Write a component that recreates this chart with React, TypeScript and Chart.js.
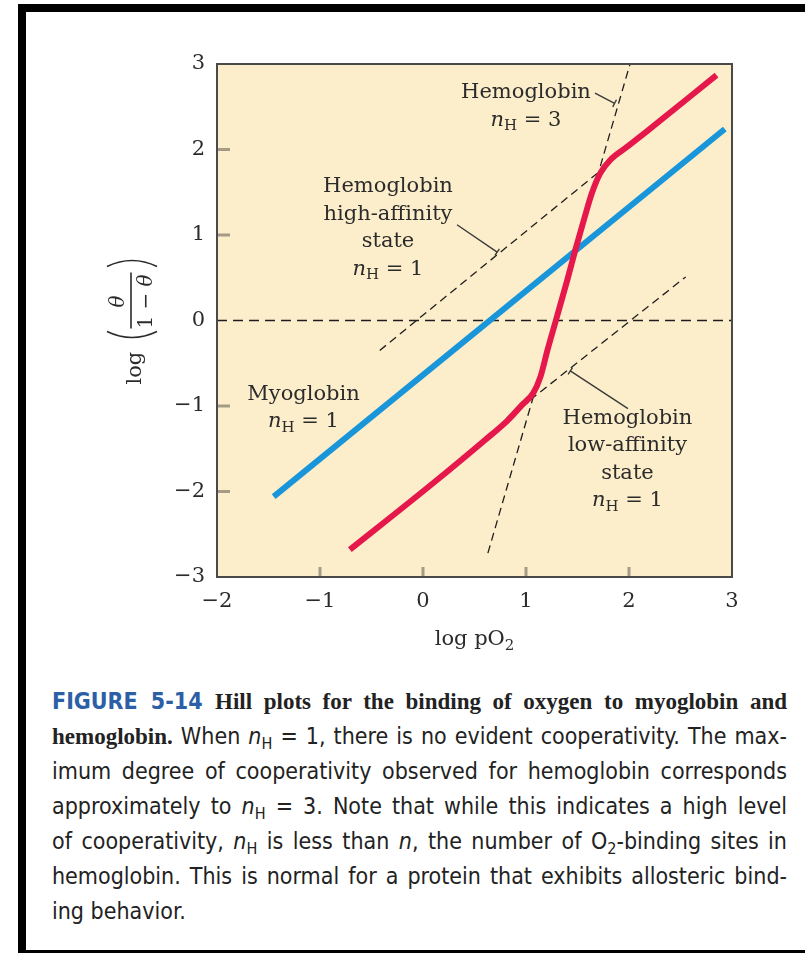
import React, { useEffect, useRef } from "react";
import { Chart, registerables } from "chart.js";

Chart.register(...registerables);

// Axis ticks and their printed labels
const xTicks = [-2, -1, 0, 1, 2, 3];
const xTickLabels = ["−2", "−1", "0", "1", "2", "3"];
const yTicks = [-3, -2, -1, 0, 1, 2, 3];
const yTickLabels = ["−3", "−2", "−1", "0", "1", "2", "3"];

// Myoglobin Hill plot (n_H = 1)
const myoglobinX = [-1.45, 2.93];
const myoglobinY = [-2.06, 2.24];

// Hemoglobin Hill plot: low-affinity limb, cooperative transition, high-affinity limb
const hemoglobinX = [-0.71, 0.07, 0.6, 0.82, 0.96, 1.07, 1.14, 1.21, 1.29, 1.4, 1.48, 1.57, 1.64, 1.72, 1.82, 1.98, 2.17, 2.85];
const hemoglobinY = [-2.68, -1.93, -1.4, -1.17, -0.99, -0.85, -0.66, -0.34, 0, 0.47, 0.83, 1.21, 1.49, 1.72, 1.88, 2.03, 2.21, 2.87];

// Reference (dashed) lines
const zeroLineX = [-2, 3];
const zeroLineY = [0, 0];
const highAffinityX = [-0.42, 1.69];
const highAffinityY = [-0.35, 1.72];
const lowAffinityX = [1.04, 2.55];
const lowAffinityY = [-0.93, 0.51];
const hillThreeX = [0.63, 2.01];
const hillThreeY = [-2.72, 3.0];

// Leader lines from labels to the dashed lines
const leaderHillThreeX = [1.67, 1.86];
const leaderHillThreeY = [2.66, 2.54];
const leaderHighX = [0.33, 0.72];
const leaderHighY = [1.12, 0.8];
const leaderLowX = [1.99, 1.43];
const leaderLowY = [-1.03, -0.59];

// Label blocks: anchor (data coords, centre of first line) and lines
const labelHillThree = { x: 1.0, y: 2.67, lines: ["Hemoglobin", "n_H = 3"] };
const labelHigh = { x: -0.34, y: 1.565, lines: ["Hemoglobin", "high-affinity", "state", "n_H = 1"] };
const labelMyo = { x: -1.16, y: -0.87, lines: ["Myoglobin", "n_H = 1"] };
const labelLow = { x: 1.985, y: -1.144, lines: ["Hemoglobin", "low-affinity", "state", "n_H = 1"] };

const SERIF = '"DejaVu Serif", serif';
const INK = "#2b2b2b";
const PLOT_BG = "#FDEECB";
const RED = "#E5174B";
const BLUE = "#1996DA";
const LABEL_SIZE = 21;

const pts = (xs: number[], ys: number[]) => xs.map((x, i) => ({ x, y: ys[i] }));

type Seg = { t: string; font: string; dy: number };

function lineSegs(line: string, size: number): Seg[] {
  if (line.startsWith("n_H")) {
    return [
      { t: "n", font: `italic ${size}px ${SERIF}`, dy: 0 },
      { t: "H", font: `${Math.round(size * 0.72)}px ${SERIF}`, dy: size * 0.28 },
      { t: line.slice(3), font: `${size}px ${SERIF}`, dy: 0 },
    ];
  }
  return [{ t: line, font: `${size}px ${SERIF}`, dy: 0 }];
}

function drawSegs(ctx: CanvasRenderingContext2D, segs: Seg[], cx: number, cy: number) {
  let total = 0;
  const widths = segs.map((s) => {
    ctx.font = s.font;
    const w = ctx.measureText(s.t).width;
    total += w;
    return w;
  });
  let x = cx - total / 2;
  segs.forEach((s, i) => {
    ctx.font = s.font;
    ctx.fillText(s.t, x, cy + s.dy);
    x += widths[i];
  });
}

const decorPlugin = {
  id: "hillDecor",
  beforeDraw(chart: any) {
    const { ctx, chartArea: a } = chart;
    ctx.save();
    ctx.fillStyle = PLOT_BG;
    ctx.fillRect(a.left, a.top, a.right - a.left, a.bottom - a.top);
    ctx.restore();
  },
  afterDraw(chart: any) {
    const { ctx, chartArea: a } = chart;
    const sx = chart.scales.x;
    const sy = chart.scales.y;
    const px = (v: number) => sx.getPixelForValue(v);
    const py = (v: number) => sy.getPixelForValue(v);
    ctx.save();

    // inward tick marks
    ctx.strokeStyle = "#A49C86";
    ctx.lineWidth = 3;
    yTicks.forEach((v) => {
      if (v === yTicks[0] || v === yTicks[yTicks.length - 1] || v === 0) return;
      ctx.beginPath();
      ctx.moveTo(a.left, py(v));
      ctx.lineTo(a.left + 13, py(v));
      ctx.stroke();
    });
    xTicks.forEach((v) => {
      if (v === xTicks[0] || v === xTicks[xTicks.length - 1]) return;
      ctx.beginPath();
      ctx.moveTo(px(v), a.bottom);
      ctx.lineTo(px(v), a.bottom - 10);
      ctx.stroke();
    });

    // frame
    ctx.strokeStyle = "#4a4a4a";
    ctx.lineWidth = 2;
    ctx.strokeRect(a.left, a.top, a.right - a.left, a.bottom - a.top);

    // leader lines with a small cross tick at the end
    ctx.strokeStyle = "#3a3a3a";
    ctx.lineWidth = 1.4;
    const leader = (xs: number[], ys: number[]) => {
      const x0 = px(xs[0]), y0 = py(ys[0]), x1 = px(xs[1]), y1 = py(ys[1]);
      ctx.beginPath();
      ctx.moveTo(x0, y0);
      ctx.lineTo(x1, y1);
      const len = Math.hypot(x1 - x0, y1 - y0);
      const nx = -(y1 - y0) / len, ny = (x1 - x0) / len;
      ctx.moveTo(x1 - nx * 4, y1 - ny * 4);
      ctx.lineTo(x1 + nx * 4, y1 + ny * 4);
      ctx.stroke();
    };
    leader(leaderHillThreeX, leaderHillThreeY);
    leader(leaderHighX, leaderHighY);
    leader(leaderLowX, leaderLowY);

    // label blocks
    ctx.fillStyle = INK;
    ctx.textBaseline = "middle";
    ctx.textAlign = "left";
    const block = (b: { x: number; y: number; lines: string[] }, gap: number) => {
      b.lines.forEach((line, i) => drawSegs(ctx, lineSegs(line, LABEL_SIZE), px(b.x), py(b.y) + i * gap));
    };
    block(labelHillThree, 28);
    block(labelHigh, 27.5);
    block(labelMyo, 27);
    block(labelLow, 27.5);

    // x-axis title: log pO2
    const cxT = (a.left + a.right) / 2;
    drawSegs(
      ctx,
      [
        { t: "log pO", font: `21px ${SERIF}`, dy: 0 },
        { t: "2", font: `15px ${SERIF}`, dy: 6 },
      ],
      cxT,
      640
    );

    // y-axis title: log(θ / (1 − θ)), rotated
    const cyT = (a.top + a.bottom) / 2;
    ctx.translate(131, cyT);
    ctx.rotate(-Math.PI / 2);
    ctx.textBaseline = "alphabetic";
    ctx.font = `21px ${SERIF}`;
    ctx.fillText("log", -64, 10);
    ctx.strokeStyle = INK;
    ctx.lineWidth = 1.6;
    ctx.beginPath();
    ctx.moveTo(-11, -24);
    ctx.quadraticCurveTo(-23, 1, -11, 26);
    ctx.moveTo(54, -24);
    ctx.quadraticCurveTo(66, 1, 54, 26);
    ctx.stroke();
    ctx.lineWidth = 1.6;
    ctx.beginPath();
    ctx.moveTo(-8, 0);
    ctx.lineTo(48, 0);
    ctx.stroke();
    drawSegs(ctx, [{ t: "θ", font: `italic 20px ${SERIF}`, dy: 0 }], 19, -7);
    drawSegs(
      ctx,
      [
        { t: "1 − ", font: `20px ${SERIF}`, dy: 0 },
        { t: "θ", font: `italic 20px ${SERIF}`, dy: 0 },
      ],
      19,
      21
    );
    ctx.restore();
  },
};

function HillChart() {
  const ref = useRef<HTMLCanvasElement | null>(null);
  useEffect(() => {
    if (!ref.current) return;
    const dashed = (xs: number[], ys: number[], dash: number[], width: number) => ({
      data: pts(xs, ys),
      borderColor: "#1e1e1e",
      borderWidth: width,
      borderDash: dash,
      pointRadius: 0,
      showLine: true,
      fill: false,
    });
    const chart = new Chart(ref.current, {
      type: "scatter",
      data: {
        datasets: [
          {
            label: "Hemoglobin",
            data: pts(hemoglobinX, hemoglobinY),
            borderColor: RED,
            borderWidth: 6,
            pointRadius: 0,
            showLine: true,
            cubicInterpolationMode: "monotone",
            borderCapStyle: "butt",
          },
          {
            label: "Myoglobin",
            data: pts(myoglobinX, myoglobinY),
            borderColor: BLUE,
            borderWidth: 6,
            pointRadius: 0,
            showLine: true,
          },
          { label: "zero", ...dashed(zeroLineX, zeroLineY, [10, 6], 1.6) },
          { label: "high affinity", ...dashed(highAffinityX, highAffinityY, [8, 5], 1.3) },
          { label: "low affinity", ...dashed(lowAffinityX, lowAffinityY, [8, 5], 1.3) },
          { label: "n_H = 3", ...dashed(hillThreeX, hillThreeY, [8, 5], 1.3) },
        ] as any,
      },
      options: {
        animation: false,
        responsive: false,
        events: [],
        layout: { padding: { left: 157, right: 73, top: 64, bottom: 23 } },
        plugins: { legend: { display: false }, tooltip: { enabled: false } },
        scales: {
          x: {
            type: "linear",
            min: -2,
            max: 3,
            afterBuildTicks: (s: any) => {
              s.ticks = xTicks.map((v) => ({ value: v }));
            },
            afterFit: (s: any) => {
              s.height = 60;
            },
            grid: { display: false, drawTicks: false },
            border: { display: false },
            ticks: {
              padding: 12,
              color: INK,
              font: { family: SERIF, size: 21 },
              maxRotation: 0,
              callback: (v: any) => xTickLabels[xTicks.indexOf(Number(v))],
            },
          },
          y: {
            type: "linear",
            min: -3,
            max: 3,
            afterBuildTicks: (s: any) => {
              s.ticks = yTicks.map((v) => ({ value: v }));
            },
            afterFit: (s: any) => {
              s.width = 60;
            },
            grid: { display: false, drawTicks: false },
            border: { display: false },
            ticks: {
              padding: 12,
              color: INK,
              font: { family: SERIF, size: 21 },
              callback: (v: any) => yTickLabels[yTicks.indexOf(Number(v))],
            },
          },
        },
      },
      plugins: [decorPlugin],
    });
    return () => chart.destroy();
  }, []);
  return (
    <canvas
      ref={ref}
      width={805}
      height={660}
      style={{ position: "absolute", left: 0, top: 0, width: 805, height: 660 }}
    />
  );
}

const sub: React.CSSProperties = { fontSize: "0.7em", position: "relative", top: "0.3em" };
const boldSerif: React.CSSProperties = {
  fontFamily: '"Liberation Serif", serif',
  fontWeight: 700,
  fontSize: 23,
};

function Caption() {
  const line = (last = false): React.CSSProperties => ({
    textAlign: last ? "left" : "justify",
    textAlignLast: last ? "left" : "justify",
    height: 35,
  });
  const nH = (
    <>
      <i>n</i>
      <span style={sub}>H</span>
    </>
  );
  return (
    <div
      style={{
        position: "absolute",
        left: 52,
        top: 684,
        width: 735,
        fontFamily: '"Liberation Sans Narrow", "DejaVu Sans Condensed", sans-serif',
        fontStretch: "condensed",
        fontSize: 23,
        lineHeight: "35px",
        color: "#222",
      }}
    >
      <div style={line()}>
        <span style={{ color: "#2C5FA6", fontWeight: 700 }}>FIGURE 5-14</span>{" "}
        <span style={boldSerif}>Hill plots for the binding of oxygen to myoglobin and</span>
      </div>
      <div style={line()}>
        <span style={boldSerif}>hemoglobin.</span> When {nH} = 1, there is no evident cooperativity. The max-
      </div>
      <div style={line()}>imum degree of cooperativity observed for hemoglobin corresponds</div>
      <div style={line()}>approximately to {nH} = 3. Note that while this indicates a high level</div>
      <div style={line()}>
        of cooperativity, {nH} is less than <i>n</i>, the number of O<span style={sub}>2</span>-binding sites in
      </div>
      <div style={line()}>hemoglobin. This is normal for a protein that exhibits allosteric bind-</div>
      <div style={line(true)}>ing behavior.</div>
    </div>
  );
}

export default function App() {
  return (
    <div
      style={{
        position: "absolute",
        left: 0,
        top: 0,
        width: 805,
        height: 953,
        overflow: "hidden",
        background: "#fff",
      }}
    >
      <div
        style={{
          position: "absolute",
          left: 18,
          top: 4,
          width: 830,
          height: 954,
          boxSizing: "border-box",
          border: "8px solid #000",
        }}
      />
      <HillChart />
      <Caption />
    </div>
  );
}
